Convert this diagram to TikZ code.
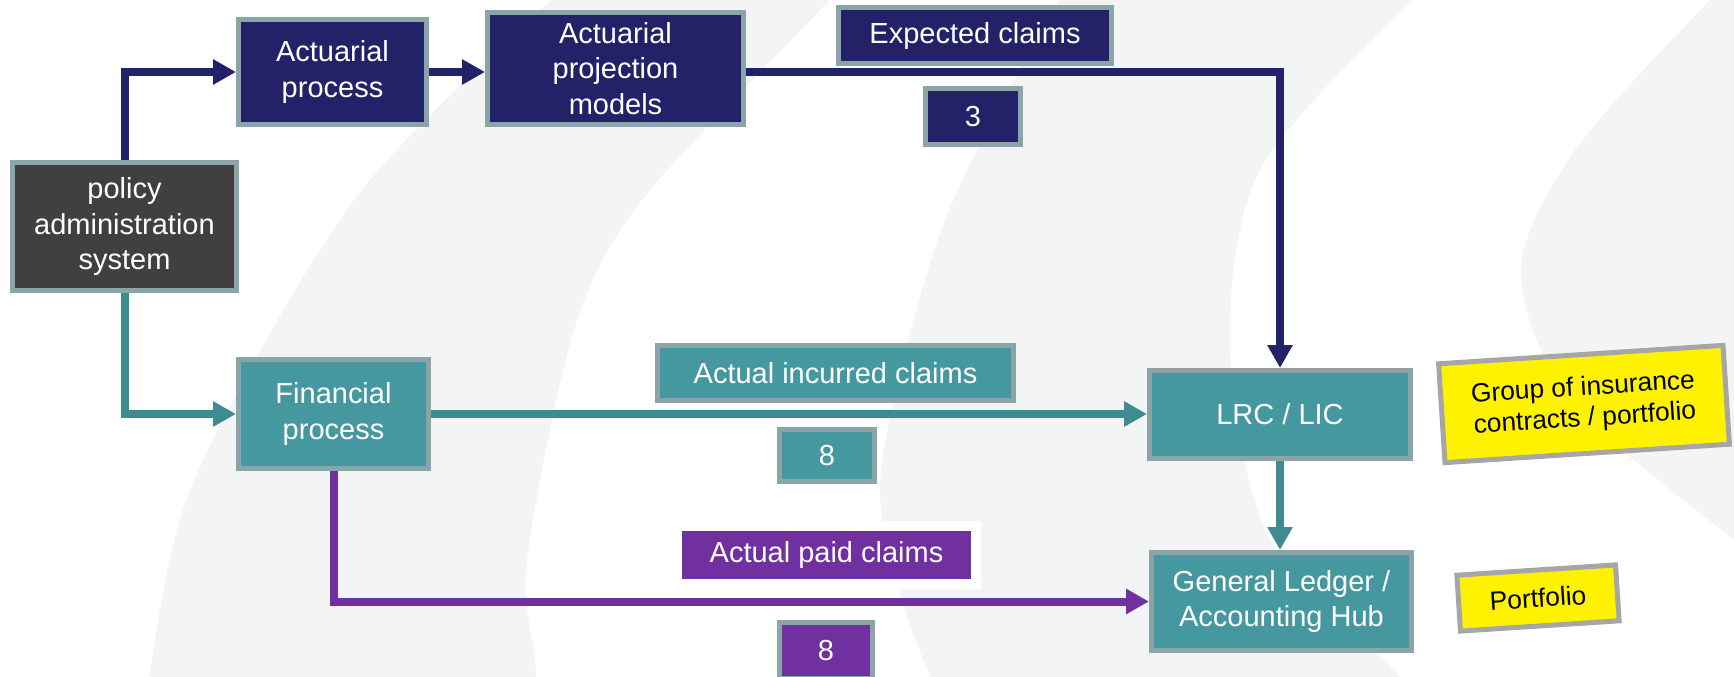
\documentclass[tikz,border=0pt]{standalone}
\usepackage{fontspec}
\setmainfont{Liberation Sans}
\usepackage{tikz}
\usetikzlibrary{arrows.meta,positioning,calc}
\definecolor{navyblue}{RGB}{35,33,104}
\definecolor{tealbox}{RGB}{70,152,160}
\definecolor{tealline}{RGB}{62,140,146}
\definecolor{plum}{RGB}{112,48,160}
\definecolor{darkbox}{RGB}{64,64,64}
\definecolor{rim}{RGB}{138,164,167}
\definecolor{notegray}{RGB}{166,166,166}
\definecolor{bg}{RGB}{243,245,245}

\begin{document}
\begin{tikzpicture}[x=0.2mm, y=-0.2mm,
  box/.style={draw=rim, line width=1mm, text=white, align=center, inner sep=0pt,
    font=\fontsize{16.5}{20}\selectfont},
  note/.style={draw=notegray, line width=1mm, fill=yellow, align=center, inner sep=0pt,
    rotate=3.7, font=\fontsize{15}{17.5}\selectfont},
  arrow/.style={-{Triangle[length=4.6mm, width=4.8mm]}, line width=1.6mm}
]
\useasboundingbox (0,0) rectangle (1734,676);
\begin{scope}
\clip (0,0) rectangle (1734,676);
\fill[bg] plot[smooth, tension=0.5] coordinates {(600,-40) (551,0) (354,200) (194,480) (149,676) (145,720)}
  -- plot[smooth, tension=0.5] coordinates {(540,720) (535,660) (527,560) (574,330) (642,200) (830,0) (870,-40)} -- cycle;
\fill[bg] plot[smooth, tension=0.5] coordinates {(1100,-40) (1060,0) (945,220) (881,470) (905,610) (950,720)}
  -- plot[smooth, tension=0.5] coordinates {(1440,720) (1400,676) (1270,540) (1230,350) (1260,170) (1413,0) (1470,-40)} -- cycle;
\fill[bg] plot[smooth, tension=0.5] coordinates {(1760,-40) (1710,0) (1575,150) (1521,270) (1570,400) (1734,540) (1790,580)}
  -- (1800,580) -- (1800,-40) -- cycle;
\end{scope}

\node[box, fill=darkbox, minimum width=44.8mm, minimum height=25.6mm] (pas) at (124.5,226.5) {policy\\administration\\system};
\node[box, fill=navyblue, minimum width=37.6mm, minimum height=21mm] (actp) at (332.5,72) {Actuarial\\process};
\node[box, fill=navyblue, minimum width=51.2mm, minimum height=22.4mm] (proj) at (615.5,68.5) {Actuarial\\projection\\models};
\node[box, fill=navyblue, minimum width=54.6mm, minimum height=11.2mm] (expc) at (975,35.5) {Expected claims};
\node[box, fill=navyblue, minimum width=19mm, minimum height=11.2mm] (three) at (973,116.5) {3};
\node[box, fill=tealbox, minimum width=38mm, minimum height=21.8mm] (finp) at (333.5,414) {Financial\\process};
\node[box, fill=tealbox, minimum width=71.2mm, minimum height=11mm] (incur) at (835.5,373) {Actual incurred claims};
\node[box, fill=tealbox, minimum width=19mm, minimum height=10.4mm] (eighta) at (827,455.5) {8};
\node[box, fill=tealbox, minimum width=52.2mm, minimum height=17.6mm] (lrc) at (1280,414.5) {LRC / LIC};
\node[box, fill=plum, draw=white, line width=2mm, minimum width=59.8mm, minimum height=11.6mm] (paid) at (826.5,555) {Actual paid claims};
\node[box, fill=plum, minimum width=18.6mm, minimum height=11.2mm] (eightb) at (826,650.5) {8};
\node[box, fill=tealbox, minimum width=52mm, minimum height=19.6mm] (gl) at (1281.5,601.5) {General Ledger /\\Accounting Hub};
\node[note, minimum width=57mm, minimum height=19.8mm] (grp) at (1584,404) {Group of insurance\\contracts / portfolio};
\node[note, minimum width=31.8mm, minimum height=11.2mm] (port) at (1538,598) {Portfolio};

\draw[arrow, navyblue] (pas.north) |- (actp.west);
\draw[arrow, navyblue] (actp.east) -- (actp.east -| proj.west);
\draw[arrow, navyblue] (actp.east -| proj.east) -| (lrc.north);
\draw[arrow, tealline] (pas.south) |- (finp.west);
\draw[arrow, tealline] (finp.east) -- (finp.east -| lrc.west);
\draw[arrow, tealline] (lrc.south) -- (lrc.south |- gl.north);
\draw[arrow, plum] (finp.south) |- (gl.west);
\end{tikzpicture}
\end{document}
